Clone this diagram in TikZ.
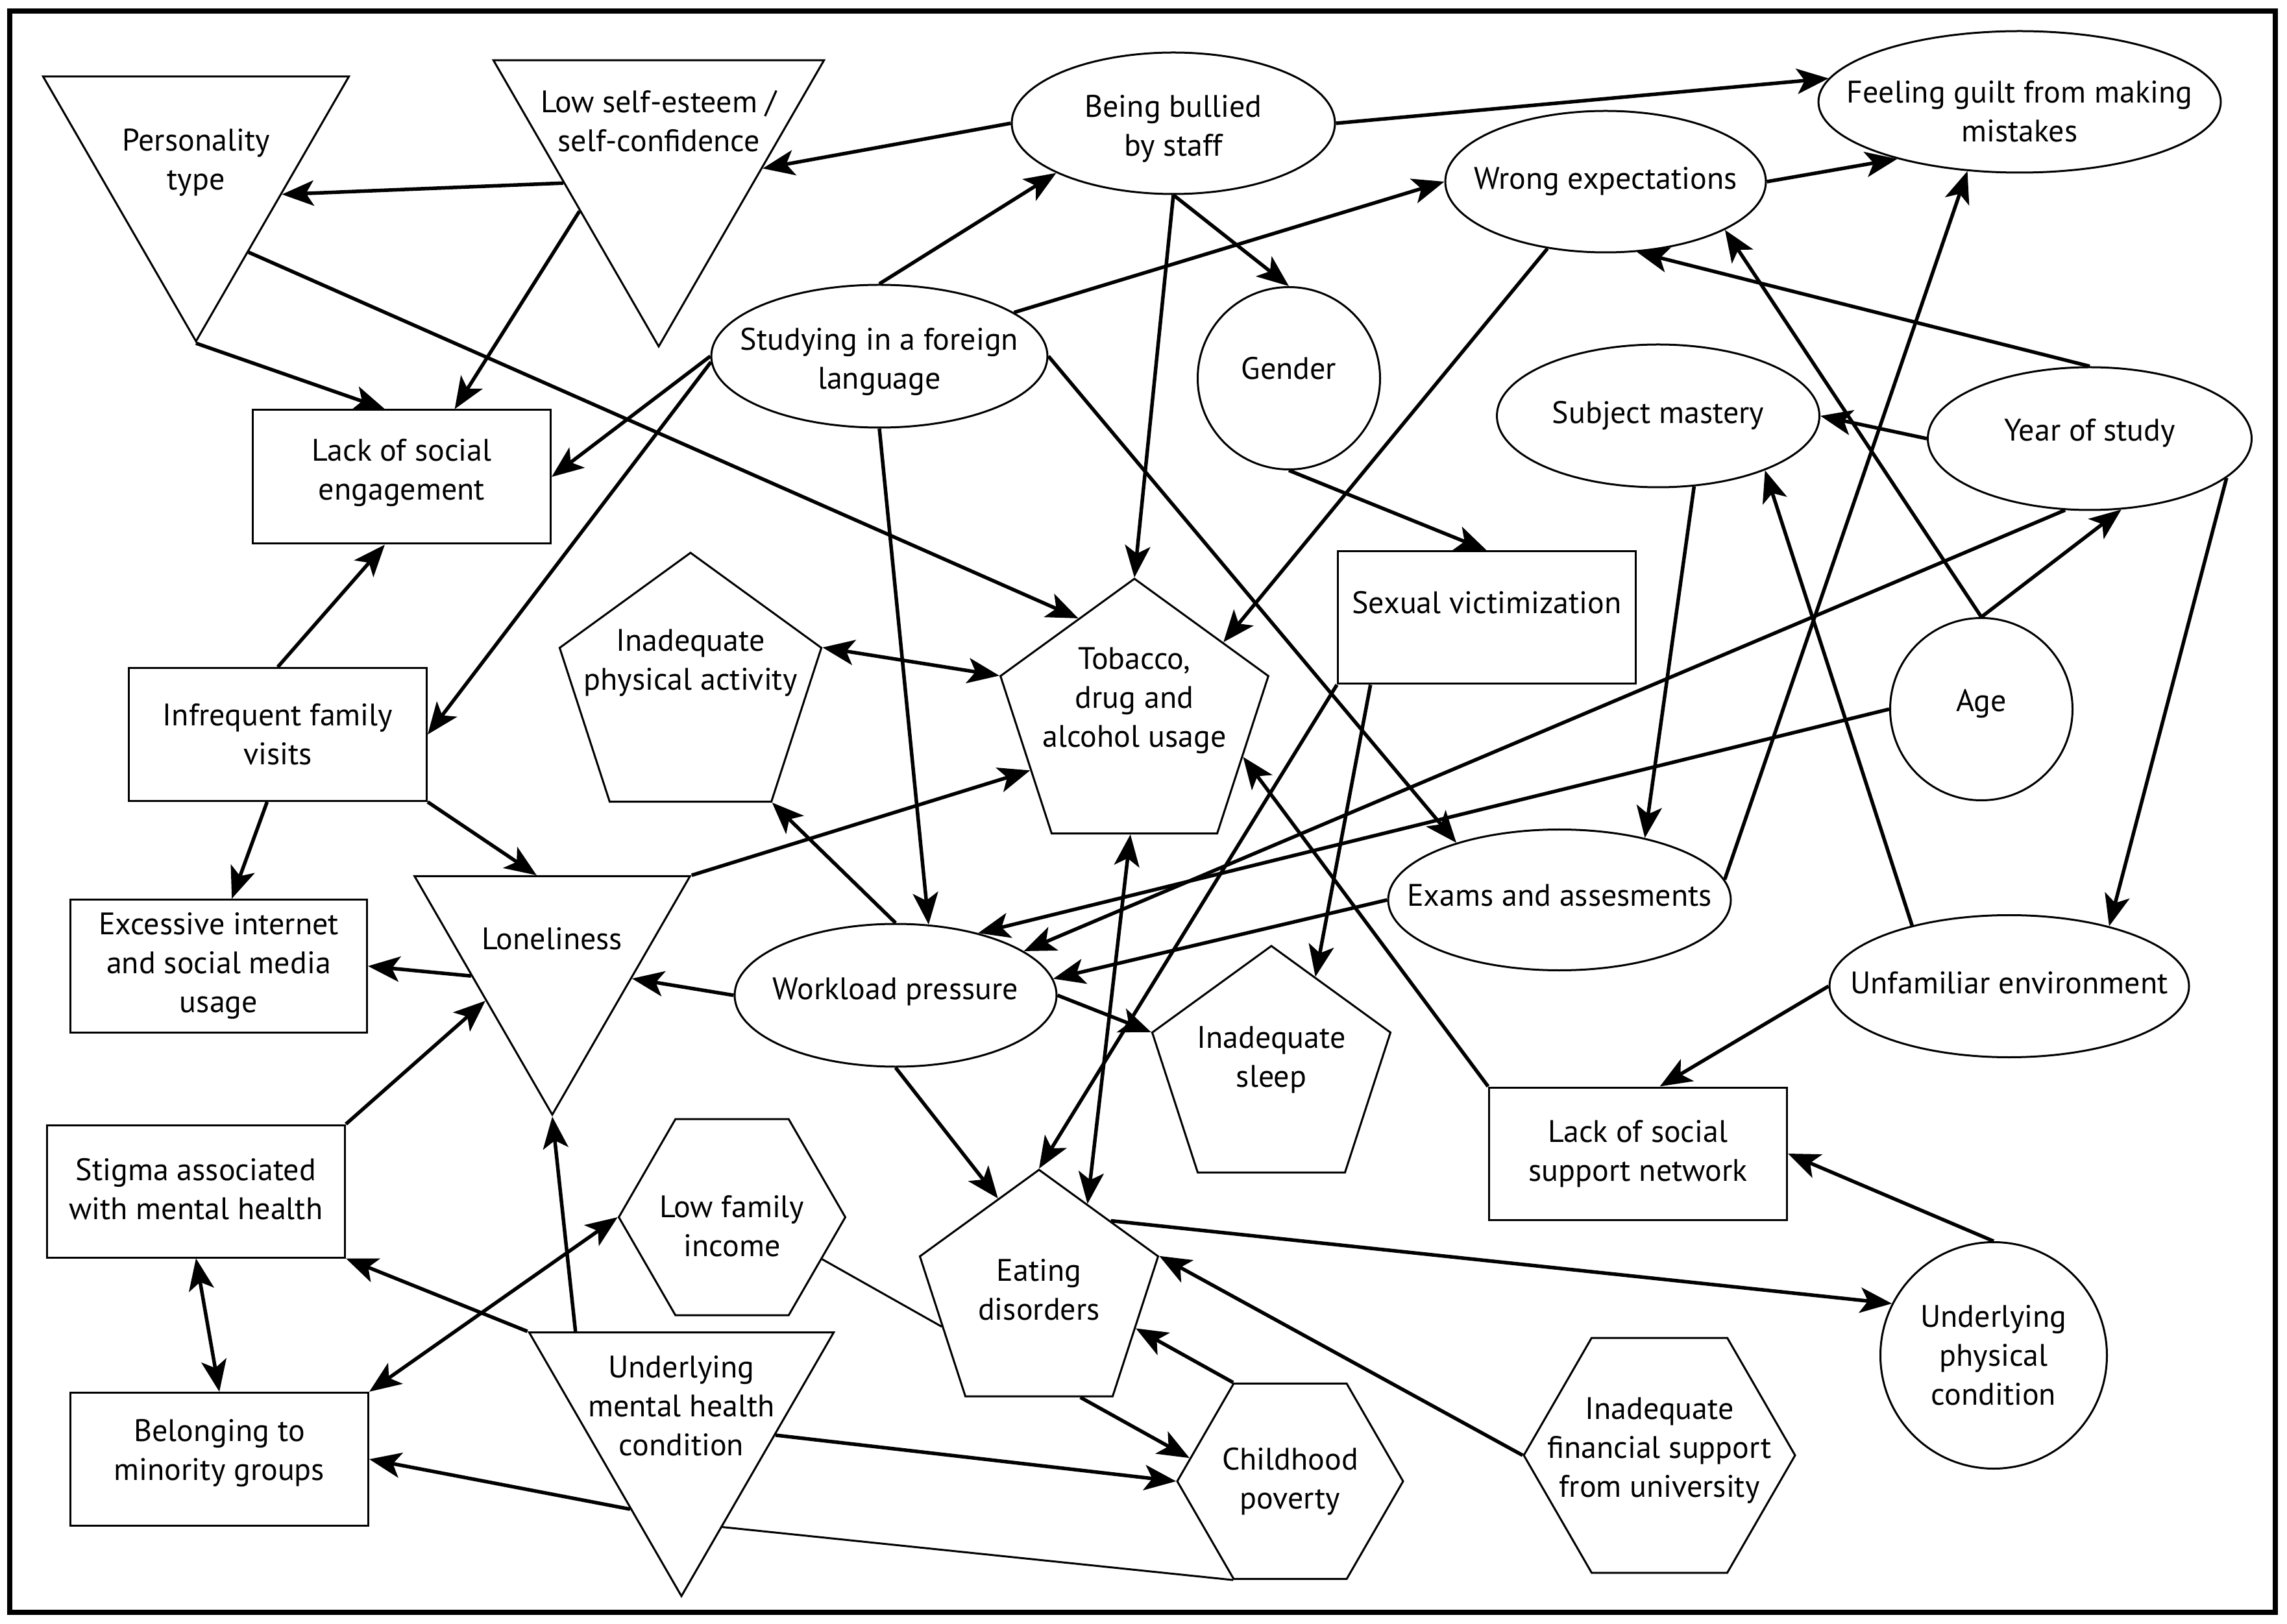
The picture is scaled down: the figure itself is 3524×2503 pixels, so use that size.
\documentclass[tikz,border=0pt]{standalone}
\usepackage{fontspec}
\setmainfont{PT Sans}
\usetikzlibrary{shapes.geometric,arrows.meta}

\begin{document}
\begin{tikzpicture}[x=0.2pt,y=-0.2pt,
    shp/.style={draw,line width=0.6pt,inner sep=0pt},
    tri/.style={shp,regular polygon,regular polygon sides=3,shape border rotate=180},
    pent/.style={shp,regular polygon,regular polygon sides=5},
    hexa/.style={shp,regular polygon,regular polygon sides=6},
    oval/.style={shp,ellipse},
    circ/.style={shp,circle},
    box/.style={shp,rectangle,minimum width=91.8pt,minimum height=40.8pt},
    lbl/.style={align=center,inner sep=0pt,font=\fontsize{9.6}{12}\selectfont},
    arr/.style={line width=1.1pt,-{Stealth[length=9.8pt,width=7.8pt,inset=2.4pt]}},
    darr/.style={line width=1.1pt,{Stealth[length=9.8pt,width=7.8pt,inset=2.4pt]}-{Stealth[length=9.8pt,width=7.8pt,inset=2.4pt]}},
    thin/.style={line width=0.6pt}]
    \useasboundingbox (0,0) rectangle (3524,2503);
    \draw[line width=1.6pt] (15,17) rectangle (3506,2485);

    \node[tri,minimum size=108.8pt,label={[lbl,yshift=0.8pt]center:{Personality\\type}}] (pers) at (302,254) {};
    \node[tri,minimum size=117.6pt,label={[lbl,yshift=10.6pt]center:{Low self-esteem /\\self-confidence}}] (lowse) at (1015,240) {};
    \node[oval,minimum width=99.6pt,minimum height=43.6pt,label={[lbl,yshift=-1.6pt]center:{Being bullied\\by staff}}] (bully) at (1808,190) {};
    \node[oval,minimum width=124pt,minimum height=43.6pt,label={[lbl,yshift=-3pt]center:{Feeling guilt from making\\mistakes}}] (guilt) at (3112,157) {};
    \node[oval,minimum width=98.8pt,minimum height=43.6pt,label={[lbl]center:{Wrong expectations}}] (wrong) at (2474,280) {};
    \node[oval,minimum width=103.6pt,minimum height=44pt,label={[lbl,yshift=-1.8pt]center:{Studying in a foreign\\language}}] (studyf) at (1355,549) {};
    \node[circ,minimum size=56.2pt,label={[lbl,yshift=3pt]center:{Gender}}] (gender) at (1986,583) {};
    \node[oval,minimum width=99.4pt,minimum height=44pt,label={[lbl]center:{Subject mastery}}] (subj) at (2555,641) {};
    \node[oval,minimum width=99.8pt,minimum height=44pt,label={[lbl,yshift=1.8pt]center:{Year of study}}] (year) at (3220,676) {};
    \node[box,minimum height=41.2pt,label={[lbl,yshift=1.2pt]center:{Lack of social\\engagement}}] (lse) at (619,735) {};
    \node[box,minimum height=41pt,label={[lbl]center:{Infrequent family\\visits}}] (ifv) at (428,1132) {};
    \node[box,minimum width=91.4pt,minimum height=41pt,label={[lbl]center:{Excessive internet\\and social media\\usage}}] (exi) at (337,1489) {};
    \node[pent,minimum size=86.8pt,label={[lbl,yshift=5.8pt]center:{Tobacco,\\drug and\\alcohol usage}}] (tob) at (1748,1109) {};
    \node[pent,minimum size=84.8pt,label={[lbl,yshift=8.4pt]center:{Inadequate\\physical activity}}] (phys) at (1064,1064) {};
    \node[box,label={[lbl,yshift=4.6pt]center:{Sexual victimization}}] (sexv) at (2291,952) {};
    \node[circ,minimum size=56.2pt,label={[lbl,yshift=1.6pt]center:{Age}}] (age) at (3053,1093) {};
    \node[oval,minimum width=105.6pt,minimum height=43.4pt,label={[lbl,yshift=1.4pt]center:{Exams and assesments}}] (exams) at (2403,1387) {};
    \node[tri,minimum size=98pt,label={[lbl,yshift=5.2pt]center:{Loneliness}}] (lone) at (851,1473) {};
    \node[oval,minimum width=99.2pt,minimum height=44pt,label={[lbl,yshift=1.2pt]center:{Workload pressure}}] (work) at (1380,1534) {};
    \node[pent,minimum size=77.2pt,label={[lbl,yshift=3.6pt]center:{Inadequate\\sleep}}] (sleep) at (1959,1651) {};
    \node[oval,minimum width=110.8pt,minimum height=43.8pt,label={[lbl,yshift=1pt]center:{Unfamiliar environment}}] (unfam) at (3096,1520) {};
    \node[box,label={[lbl]center:{Lack of social\\support network}}] (lssn) at (2524,1778) {};
    \node[box,label={[lbl,yshift=0.6pt]center:{Stigma associated\\with mental health}}] (stig) at (302,1836) {};
    \node[box,minimum height=41pt,label={[lbl,yshift=1.8pt]center:{Belonging to\\minority groups}}] (belong) at (338,2249) {};
    \node[hexa,minimum size=69.8pt,label={[lbl,yshift=-2.8pt]center:{Low family\\income}}] (income) at (1128,1876) {};
    \node[pent,minimum size=77.2pt,label={[lbl,yshift=1.6pt]center:{Eating\\disorders}}] (eat) at (1601,1996) {};
    \node[tri,minimum size=108.4pt,label={[lbl,yshift=4.4pt]center:{Underlying\\mental health\\condition}}] (mental) at (1050,2189) {};
    \node[hexa,minimum size=69.6pt,label={[lbl]center:{Childhood\\poverty}}] (child) at (1988,2283) {};
    \node[hexa,minimum size=83.6pt,label={[lbl,yshift=1.4pt]center:{Inadequate\\financial support\\from university}}] (fin) at (2557,2243) {};
    \node[circ,minimum size=69.8pt,label={[lbl]center:{Underlying\\physical\\condition}}] (phycond) at (3072,2089) {};

    \draw[arr] (lowse.196) -- (pers.341);
    \draw[arr] (lowse.215) -- (lse.52);
    \draw[arr] (pers.270) -- (lse.104);
    \draw[arr] (pers.301) -- (tob.119);
    \draw[arr] (bully.180) -- (lowse.353);
    \draw[arr] (bully.0) -- (guilt.173);
    \draw[arr] (studyf.90) -- (bully.203);
    \draw[arr] (studyf.18) -- (wrong.180);
    \draw[arr] (bully.270) -- (gender.90);
    \draw[arr] (bully.270) -- (tob.90);
    \draw[arr] (studyf.180) -- (lse.0);
    \draw[arr] (studyf.182) -- (ifv.0);
    \draw[arr] (studyf.270) -- (work.65);
    \draw[arr] (studyf.0) -- (exams.151);
    \draw[arr] (wrong.0) -- (guilt.205);
    \draw[arr] (wrong.229) -- (tob.41);
    \draw[arr] (year.90) -- (wrong.294);
    \draw[arr] (age.90) -- (wrong.338);
    \draw[arr] (exams.7) -- (guilt.233);
    \draw[arr] (year.180) -- (subj.0);
    \draw[arr] (subj.297) -- (exams.36);
    \draw[arr] (unfam.148) -- (subj.333);
    \draw[arr] (age.90) -- (year.294);
    \draw[arr] (year.251) -- (work.19);
    \draw[arr] (year.344) -- (unfam.31);
    \draw[arr] (age.180) -- (work.37);
    \draw[arr] (exams.180) -- (work.6);
    \draw[arr] (work.180) -- (lone.344);
    \draw[arr] (lone.194) -- (exi.0);
    \draw[arr] (lone.30) -- (tob.206);
    \draw[arr] (ifv.90) -- (lse.256);
    \draw[arr] (ifv.261) -- (exi.79);
    \draw[arr] (ifv.south east) -- (lone.101);
    \draw[arr] (work.90) -- (phys.306);
    \draw[darr] (phys.18) -- (tob.162);
    \draw[arr] (work.0) -- (sleep.162);
    \draw[arr] (work.270) -- (eat.113);
    \draw[darr] (tob.268) -- (eat.62);
    \draw[arr] (sexv.south west) -- (eat.90);
    \draw[arr] (sexv.210) -- (sleep.65);
    \draw[arr] (gender.270) -- (sexv.90);
    \draw[arr] (lssn.north west) -- (tob.341);
    \draw[arr] (unfam.180) -- (lssn.72);
    \draw[arr] (phycond.90) -- (lssn.0);
    \draw[arr] (eat.46) -- (phycond.153);
    \draw[arr] (fin.180) -- (eat.18);
    \draw[arr] (child.120) -- (eat.341);
    \draw[arr] (eat.292) -- (child.167);
    \draw[arr] (mental.351) -- (child.180);
    \draw[arr] (mental.240) -- (belong.0);
    \draw[arr] (mental.150) -- (stig.south east);
    \draw[arr] (mental.140) -- (lone.270);
    \draw[arr] (stig.north east) -- (lone.214);
    \draw[darr] (stig.270) -- (belong.90);
    \draw[darr] (income.180) -- (belong.north east);
    \draw[thin] (income.335) -- (eat.198);
    \draw[thin] (mental.291) -- (child.240);
\end{tikzpicture}
\end{document}
